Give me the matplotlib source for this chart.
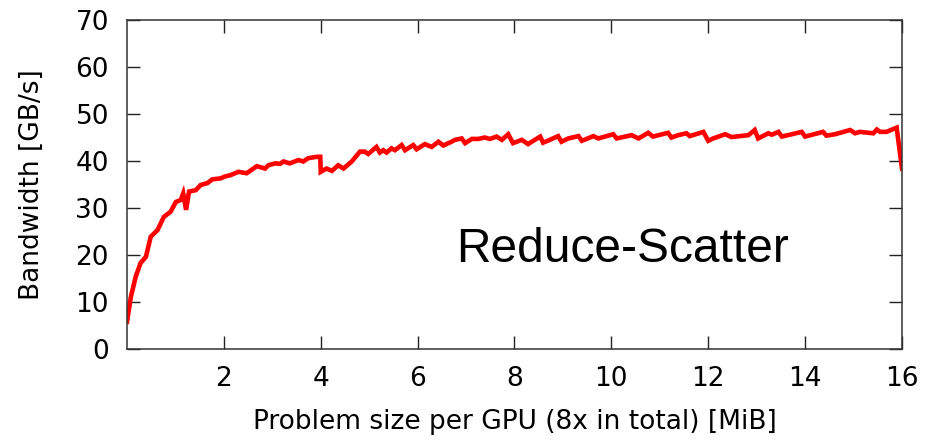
import matplotlib
matplotlib.use("Agg")
import matplotlib.pyplot as plt

# Reduce-Scatter bandwidth vs. problem size per GPU
size_mib = [0.0, 0.08, 0.18, 0.28, 0.39, 0.49, 0.63, 0.76, 0.90, 1.01,
            1.11, 1.16, 1.22, 1.28, 1.42, 1.52, 1.66, 1.76, 1.93, 2.02,
            2.14, 2.30, 2.47, 2.68, 2.85, 2.92, 3.06, 3.16, 3.23, 3.36,
            3.54, 3.64, 3.74, 3.92, 3.99, 4.00, 4.12, 4.23, 4.36, 4.47,
            4.64, 4.81, 4.91, 4.98, 5.15, 5.22, 5.29, 5.36, 5.46, 5.53,
            5.67, 5.74, 5.91, 5.98, 6.15, 6.29, 6.43, 6.53, 6.70, 6.77,
            6.91, 6.98, 7.12, 7.25, 7.39, 7.49, 7.63, 7.74, 7.87, 7.97,
            8.15, 8.28, 8.42, 8.53, 8.59, 8.73, 8.90, 8.97, 9.11, 9.32,
            9.39, 9.63, 9.73, 10.04, 10.11, 10.42, 10.56, 10.76, 10.86, 11.17,
            11.24, 11.38, 11.55, 11.62, 11.90, 12.00, 12.10, 12.35, 12.48, 12.83,
            12.96, 13.03, 13.24, 13.31, 13.45, 13.52, 13.93, 14.00, 14.37, 14.44,
            14.62, 14.93, 15.03, 15.13, 15.41, 15.48, 15.55, 15.68, 15.89, 16.0]
bandwidth = [5.8, 11.1, 15.4, 18.3, 19.6, 23.9, 25.3, 28.1, 29.2, 31.3,
             31.7, 33.1, 29.6, 33.5, 33.8, 34.9, 35.3, 36.1, 36.3, 36.7,
             37.0, 37.7, 37.4, 38.9, 38.4, 39.1, 39.5, 39.4, 39.9, 39.5,
             40.2, 39.9, 40.6, 40.9, 40.9, 37.7, 38.4, 37.9, 39.1, 38.4,
             39.9, 42.0, 42.0, 41.5, 43.0, 41.8, 42.3, 41.8, 42.7, 42.3,
             43.4, 42.3, 43.4, 42.5, 43.6, 43.0, 44.1, 43.3, 44.1, 44.5,
             44.8, 43.8, 44.7, 44.7, 45.0, 44.7, 45.2, 44.5, 45.7, 43.8,
             44.5, 43.6, 44.5, 45.2, 43.9, 44.5, 45.3, 44.1, 44.8, 45.3,
             44.3, 45.3, 44.8, 45.7, 44.8, 45.5, 44.8, 46.0, 45.2, 46.0,
             45.0, 45.5, 45.9, 45.3, 46.2, 44.3, 44.8, 45.7, 45.1, 45.5,
             46.6, 44.8, 45.9, 45.6, 46.2, 45.2, 46.2, 45.2, 46.2, 45.4,
             45.7, 46.6, 45.9, 46.2, 45.9, 46.7, 46.2, 46.2, 47.1, 38.4]

x_ticks = [2, 4, 6, 8, 10, 12, 14, 16]
y_ticks = [0, 10, 20, 30, 40, 50, 60, 70]

plt.rcParams['font.family'] = ['DejaVu Sans']

fig = plt.figure(figsize=(9.38, 4.4), dpi=100)
ax = fig.add_axes([0.1354, 0.2068, 0.8262, 0.7477])

ax.plot(size_mib, bandwidth, color='#ff0000', lw=3.3, solid_joinstyle='miter')

ax.set_xlim(0, 16)
ax.set_ylim(0, 70)
ax.set_xticks(x_ticks)
ax.set_yticks(y_ticks)
ax.tick_params(axis='both', direction='in', length=9.5, width=1.0,
               color='#222222', labelsize=19, top=True, right=True)
ax.tick_params(axis='y', pad=13)
ax.tick_params(axis='x', pad=12.5)
for s in ax.spines.values():
    s.set_color('#333333')
    s.set_linewidth(1.1)

ax.set_xlabel('Problem size per GPU (8x in total) [MiB]', fontsize=19, labelpad=12)
ax.set_ylabel('Bandwidth [GB/s]', fontsize=19, labelpad=22)

ax.text(0.639, 0.264, 'Reduce-Scatter', transform=ax.transAxes,
        ha='center', va='baseline', fontsize=34.5, family='Liberation Sans')

fig.savefig('out.png', dpi=100)
